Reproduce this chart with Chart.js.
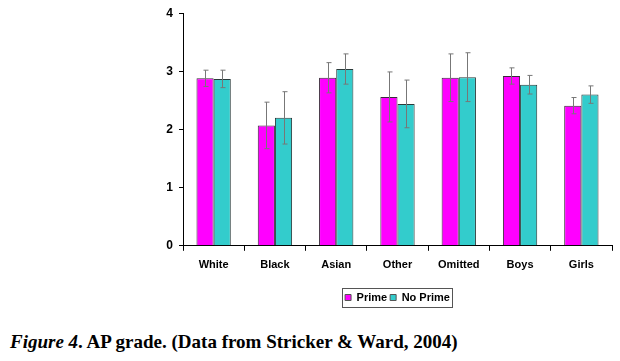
<!DOCTYPE html>
<html>
<head>
<meta charset="utf-8">
<script src="https://cdn.jsdelivr.net/npm/chart.js@4"></script>
<style>
  body { margin: 0; background: #fff; }
  #wrap { position: relative; width: 620px; height: 361px; }
  #chartBox { position: absolute; left: 0; top: 0; width: 620px; height: 318px; }
  #caption {
    position: absolute; left: 10px; top: 331px;
    font-family: "Liberation Serif", "Times New Roman", serif;
    font-weight: bold; font-size: 19px; color: #000; white-space: nowrap;
  }
</style>
</head>
<body>
<div id="wrap">
  <div id="chartBox"><canvas id="myChart"></canvas></div>
  <div id="caption"><i>Figure 4</i>. AP grade. (Data from Stricker &amp; Ward, 2004)</div>
</div>
<script>
const categories = ['White', 'Black', 'Asian', 'Other', 'Omitted', 'Boys', 'Girls'];
const primeValues = [2.88, 2.07, 2.89, 2.56, 2.89, 2.92, 2.41];
const primeErrors = [0.14, 0.40, 0.26, 0.43, 0.41, 0.14, 0.14];
const noPrimeValues = [2.87, 2.20, 3.04, 2.44, 2.90, 2.77, 2.60];
const noPrimeErrors = [0.15, 0.45, 0.26, 0.41, 0.42, 0.16, 0.15];
const yTicks = [0, 1, 2, 3, 4];

// draws error bars from the dataset's errors array using the chart's scales
const errorBars = {
  id: 'errorBars',
  afterDatasetsDraw(chart) {
    const ctx = chart.ctx;
    const yScale = chart.scales.y;
    ctx.save();
    ctx.strokeStyle = '#777';
    ctx.lineWidth = 1;
    chart.data.datasets.forEach((ds, i) => {
      const meta = chart.getDatasetMeta(i);
      meta.data.forEach((bar, j) => {
        const v = ds.data[j];
        const e = ds.errors[j];
        const x = Math.round(bar.x) + 0.5;
        const top = yScale.getPixelForValue(v + e);
        const bottom = yScale.getPixelForValue(v - e);
        ctx.beginPath();
        ctx.moveTo(x, top);
        ctx.lineTo(x, bottom);
        ctx.moveTo(x - 2, top);
        ctx.lineTo(x + 3, top);
        ctx.moveTo(x - 2, bottom);
        ctx.lineTo(x + 3, bottom);
        ctx.stroke();
      });
    });
    ctx.restore();
  }
};

// centre the legend under the plot area (not the padded canvas) and frame it
const legendFrame = {
  id: 'legendFrame',
  afterLayout(chart) {
    const lg = chart.legend;
    if (!lg) return;
    const shift = (chart.chartArea.left + chart.chartArea.right) / 2 - (lg.left + lg.right) / 2;
    lg.left += shift;
    lg.right += shift;
  },
  afterDraw(chart) {
    const boxes = chart.legend && chart.legend.legendHitBoxes;
    if (!boxes || !boxes.length) return;
    const ctx = chart.ctx;
    const left = Math.min(...boxes.map(b => b.left)) - 3;
    const right = Math.max(...boxes.map(b => b.left + b.width)) + 2;
    const top = boxes[0].top - 4;
    const h = boxes[0].height + 8;
    ctx.save();
    ctx.strokeStyle = '#555';
    ctx.lineWidth = 1;
    ctx.strokeRect(Math.round(left) + 0.5, Math.round(top) + 0.5, Math.round(right - left), Math.round(h));
    ctx.restore();
  }
};

const ctx = document.getElementById('myChart').getContext('2d');
new Chart(ctx, {
  type: 'bar',
  data: {
    labels: categories,
    datasets: [
      {
        label: 'Prime',
        data: primeValues,
        errors: primeErrors,
        backgroundColor: '#FF00FF',
        borderColor: '#3a2a3a',
        borderWidth: 1
      },
      {
        label: 'No Prime',
        data: noPrimeValues,
        errors: noPrimeErrors,
        backgroundColor: '#33CCCC',
        borderColor: '#2a3a3a',
        borderWidth: 1
      }
    ]
  },
  options: {
    responsive: true,
    maintainAspectRatio: false,
    animation: false,
    datasets: {
      bar: { categoryPercentage: 0.56, barPercentage: 1.0 }
    },
    layout: { padding: { left: 150, right: 8, top: 6, bottom: 5 } },
    plugins: {
      legend: {
        position: 'bottom',
        labels: {
          boxWidth: 6,
          boxHeight: 6,
          padding: 3,
          color: '#000',
          font: { family: 'Liberation Sans, Arial, sans-serif', size: 11, weight: 'bold' },
          generateLabels(chart) {
            return chart.data.datasets.map((ds, i) => ({
              text: ds.label,
              fillStyle: ds.backgroundColor,
              strokeStyle: '#555',
              lineWidth: 1,
              datasetIndex: i
            }));
          }
        }
      },
      tooltip: { enabled: false }
    },
    scales: {
      x: {
        afterFit(scale) { scale.height += 9; },
        grid: { drawOnChartArea: false, tickLength: 5, color: '#000' },
        border: { color: '#000', width: 1 },
        ticks: {
          color: '#000',
          padding: 8,
          font: { family: 'Liberation Sans, Arial, sans-serif', size: 11, weight: 'bold' }
        }
      },
      y: {
        min: 0,
        max: 4,
        afterBuildTicks(scale) {
          scale.ticks = yTicks.map(v => ({ value: v }));
        },
        afterFit(scale) { scale.width = 33; },
        grid: { drawOnChartArea: false, tickLength: 4, color: '#000' },
        border: { color: '#000', width: 1 },
        ticks: {
          color: '#000',
          padding: 6,
          font: { family: 'Liberation Sans, Arial, sans-serif', size: 12, weight: 'bold' }
        }
      }
    }
  },
  plugins: [errorBars, legendFrame]
});
</script>
</body>
</html>
